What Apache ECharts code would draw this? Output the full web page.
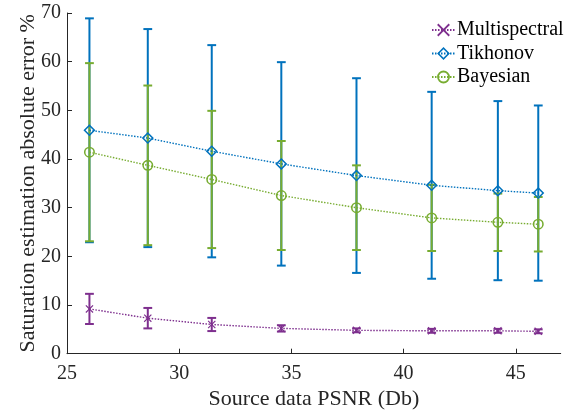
<!DOCTYPE html>
<html>
<head>
<meta charset="utf-8">
<script src="https://cdn.jsdelivr.net/npm/echarts@6/dist/echarts.min.js"></script>
<style>html,body{margin:0;padding:0;background:#fff;}#c{width:580px;height:416px;}</style>
</head>
<body>
<div id="c"></div>
<script>
const psnr = [26, 28.6, 31.45, 34.55, 37.9, 41.25, 44.2, 46];
const multiMean = [9.2, 7.3, 6.0, 5.2, 4.8, 4.7, 4.7, 4.6];
const multiErr = [3.1, 2.1, 1.35, 0.65, 0.4, 0.4, 0.4, 0.4];
const tikhMean = [45.9, 44.3, 41.6, 39.0, 36.6, 34.6, 33.5, 33.0];
const tikhErr = [23.0, 22.4, 21.8, 20.9, 20.0, 19.2, 18.4, 18.0];
const bayesMean = [41.4, 38.7, 35.8, 32.5, 30.0, 27.9, 27.0, 26.6];
const bayesErr = [18.3, 16.4, 14.1, 11.2, 8.7, 6.8, 5.9, 5.6];
const seriesNames = ['Multispectral', 'Tikhonov', 'Bayesian'];
const xTicks = [25, 30, 35, 40, 45];
const yTicks = [0, 10, 20, 30, 40, 50, 60, 70];

const colors = ['#7E2F8E', '#0072BD', '#77AC30'];
const FONT = 'Liberation Serif';

const xSym = 'path://M0,1L1,0L5,4L9,0L10,1L6,5L10,9L9,10L5,6L1,10L0,9L4,5Z';
const diamondSym = 'path://M0,-10L10,0L0,10L-10,0ZM0,-6.5L-6.5,0L0,6.5L6.5,0Z';
const circleSym = 'path://M0,-10A10,10 0 1,1 0,10A10,10 0 1,1 0,-10ZM0,-7.2A7.2,7.2 0 1,0 0,7.2A7.2,7.2 0 1,0 0,-7.2Z';
const syms = [xSym, diamondSym, circleSym];
const symSizes = [8, 12, 11];
const means = [multiMean, tikhMean, bayesMean];
const errs = [multiErr, tikhErr, bayesErr];

function errSeries(i) {
  const color = colors[i];
  return {
    type: 'custom',
    name: seriesNames[i] + ' err',
    data: psnr.map((x, k) => [x, means[i][k] - errs[i][k], means[i][k] + errs[i][k]]),
    encode: { x: 0, y: [1, 2] },
    renderItem: function (params, api) {
      const x = api.value(0), lo = api.value(1), hi = api.value(2);
      const a = api.coord([x, lo]), b = api.coord([x, hi]);
      const w = 4.4;
      const st = { stroke: color, lineWidth: 2 };
      return {
        type: 'group',
        children: [
          { type: 'line', shape: { x1: a[0], y1: a[1], x2: b[0], y2: b[1] }, style: st },
          { type: 'line', shape: { x1: a[0] - w, y1: a[1], x2: a[0] + w, y2: a[1] }, style: st },
          { type: 'line', shape: { x1: b[0] - w, y1: b[1], x2: b[0] + w, y2: b[1] }, style: st }
        ]
      };
    },
    z: 2
  };
}
function lineSeries(i) {
  return {
    type: 'line',
    name: seriesNames[i],
    data: psnr.map((x, k) => [x, means[i][k]]),
    symbol: syms[i],
    symbolSize: symSizes[i],
    showAllSymbol: true,
    itemStyle: { color: colors[i] },
    lineStyle: { color: colors[i], width: 1.4, type: [1.5, 1.5] },
    z: 3
  };
}
const series = [];
for (let i = 0; i < 3; i++) { series.push(errSeries(i)); series.push(lineSeries(i)); }

const axisCommon = {
  axisLine: { show: true, lineStyle: { color: '#262626', width: 1 } },
  axisTick: { show: true, inside: true, length: 5, lineStyle: { color: '#262626' } },
  axisLabel: { color: '#262626', fontFamily: FONT, fontSize: 20 },
  splitLine: { show: false },
  nameMoveOverlap: false,
  nameTextStyle: { color: '#262626', fontFamily: FONT, fontSize: 22 }
};

const chart = echarts.init(document.getElementById('c'), null, { renderer: 'canvas' });
chart.setOption({
  animation: false,
  backgroundColor: '#fff',
  grid: { left: 67, right: 19.3, top: 13, bottom: 62.3, containLabel: false },
  xAxis: Object.assign({}, axisCommon, {
    type: 'value', min: 25, max: 47, interval: 5,
    name: 'Source data PSNR (Db)', nameLocation: 'middle', nameGap: 35,
    axisTick: Object.assign({}, axisCommon.axisTick, { customValues: xTicks }),
    axisLabel: Object.assign({}, axisCommon.axisLabel, { customValues: xTicks, margin: 10 })
  }),
  yAxis: Object.assign({}, axisCommon, {
    type: 'value', min: 0, max: 70, interval: 10,
    name: 'Saturation estimation absolute error %', nameLocation: 'middle', nameGap: 28,
    axisTick: Object.assign({}, axisCommon.axisTick, { customValues: yTicks }),
    axisLabel: Object.assign({}, axisCommon.axisLabel, { customValues: yTicks, margin: 6 })
  }),
  legend: {
    data: seriesNames,
    orient: 'vertical',
    left: 431, top: 20, padding: 0,
    itemWidth: 23, itemHeight: 16, itemGap: 3.5,
    textStyle: { color: '#000', fontFamily: FONT, fontSize: 20, lineHeight: 20, padding: [0, 0, 0, -3] },
    backgroundColor: 'rgba(0,0,0,0)'
  },
  series: series
});
</script>
</body>
</html>
